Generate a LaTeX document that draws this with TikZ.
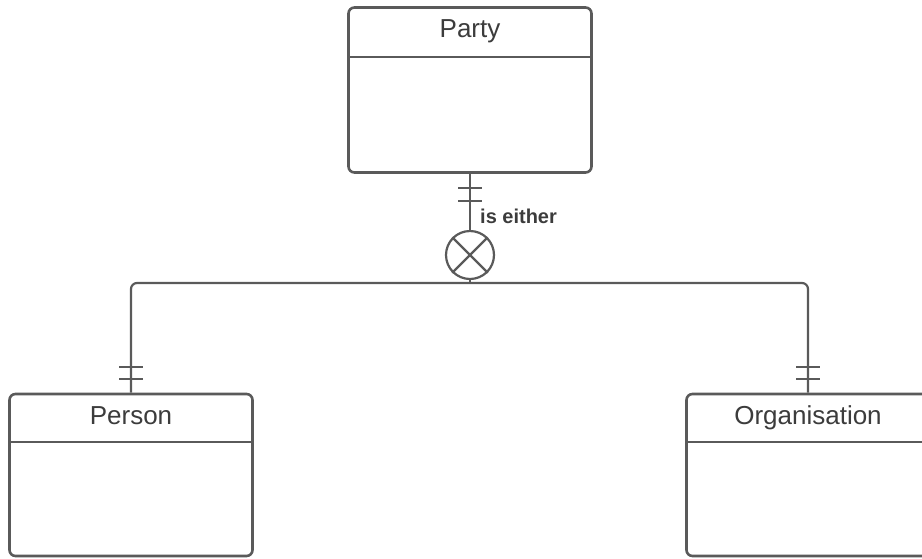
\documentclass[tikz,border=0pt]{standalone}
\usepackage{fontspec}
\setmainfont{Liberation Sans}
\usetikzlibrary{calc}
\definecolor{ln}{HTML}{5A5A5A}
\definecolor{tx}{HTML}{3C3C3C}
\begin{document}
\begin{tikzpicture}[x=1pt,y=-1pt,
  entity/.style={draw=ln, line width=2.6pt, rounded corners=6pt, fill=white,
    minimum width=243pt, inner sep=0pt},
  title/.style={anchor=base, text=tx, font=\fontsize{26}{30}\selectfont, inner sep=0pt},
  conn/.style={draw=ln, line width=2.2pt},
  tickmark/.style={draw=ln, line width=2.2pt},
  lbl/.style={anchor=base west, text=tx, font=\fontsize{20}{24}\selectfont\bfseries, inner sep=0pt}]
\useasboundingbox (0,0) rectangle (922,558);
\clip (0,0) rectangle (922,558);
% entities
\node[entity, minimum height=165pt] (party) at (470,90) {};
\node[entity, minimum height=162pt] (person) at (131,475) {};
\node[entity, minimum height=162pt] (org) at (808,475) {};
% dividers
\draw[conn, line width=2.6pt] (party.west |- 0,57) -- (party.east |- 0,57);
\draw[conn, line width=2.6pt] (person.west |- 0,442) -- (person.east |- 0,442);
\draw[conn, line width=2.6pt] (org.west |- 0,442) -- (org.east |- 0,442);
% titles
\node[title] (tparty) at (470,37) {Party};
\node[title] (tperson) at (131,424) {Person};
\node[title] (torg) at (808,424) {Organisation};
% exclusive-or circle
\node[draw=ln, line width=2.2pt, circle, minimum size=48pt, inner sep=0pt] (xor) at (470,255) {};
\draw[conn] (xor.north west) -- (xor.south east);
\draw[conn] (xor.north east) -- (xor.south west);
\coordinate (junc) at (470,283);
% connectors
\draw[conn] (party.south) -- (xor.north);
\draw[conn] (xor.south) -- (junc);
\draw[conn, rounded corners=6pt] (person.north) |- (junc) -| (org.north);
% ticks
\draw[tickmark] ($(party.south)+(-12,14)$) -- ++(24,0);
\draw[tickmark] ($(party.south)+(-12,27)$) -- ++(24,0);
\draw[tickmark] ($(person.north)+(-12,-14)$) -- ++(24,0);
\draw[tickmark] ($(person.north)+(-12,-26)$) -- ++(24,0);
\draw[tickmark] ($(org.north)+(-12,-14)$) -- ++(24,0);
\draw[tickmark] ($(org.north)+(-12,-26)$) -- ++(24,0);
% label
\node[lbl] (either) at (480,223) {is either};
\end{tikzpicture}
\end{document}
